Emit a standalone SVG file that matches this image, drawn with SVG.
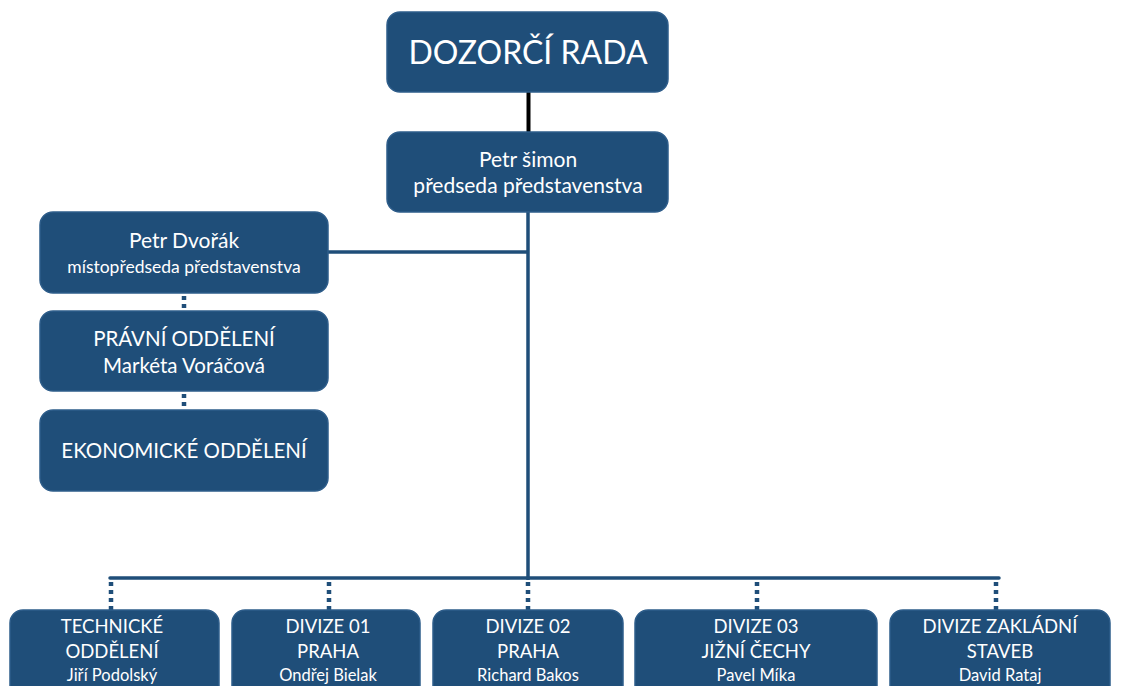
<svg xmlns="http://www.w3.org/2000/svg" width="1122" height="686" viewBox="0 0 1122 686">
  <style>
    .box { fill: #1f4e79; stroke: #2e5d8a; stroke-width: 1.5; }
    .t { fill: #ffffff; font-family: Lato, "Open Sans", "Liberation Sans", sans-serif; text-anchor: middle; }
    .big { font-size: 32px; }
    .m { font-size: 20.5px; }
    .mp { font-size: 21px; }
    .s { font-size: 17.5px; }
    .c { font-size: 18.5px; }
    .n { font-size: 16.5px; }
    .line { stroke: #1f4e79; stroke-width: 3.5; fill: none; }
    .dot { stroke: #1f4e79; stroke-width: 4.5; stroke-dasharray: 4 4; fill: none; }
  </style>
  <rect width="1122" height="686" fill="#ffffff"/>

  <g id="connectors">
    <line x1="528.5" y1="92" x2="528.5" y2="132" stroke="#000000" stroke-width="4"/>
    <line class="line" x1="528" y1="212" x2="528" y2="580"/>
    <line class="line" x1="328" y1="252" x2="528" y2="252"/>
    <line class="line" x1="110" y1="578" x2="999" y2="578" stroke-linecap="round"/>
    <line class="dot" x1="184" y1="296" x2="184" y2="311"/>
    <line class="dot" x1="184" y1="394" x2="184" y2="410"/>
    <line class="dot" x1="111" y1="582" x2="111" y2="610"/>
    <line class="dot" x1="329" y1="582" x2="329" y2="610"/>
    <line class="dot" x1="528" y1="582" x2="528" y2="610"/>
    <line class="dot" x1="757" y1="582" x2="757" y2="610"/>
    <line class="dot" x1="996" y1="582" x2="996" y2="610"/>
  </g>

  <g id="dozorci-rada">
    <rect class="box" x="387" y="12" width="281" height="80" rx="13"/>
    <text class="t big" x="528" y="64">DOZORČÍ RADA</text>
  </g>

  <g id="predseda">
    <rect class="box" x="387" y="132" width="281" height="80" rx="13"/>
    <text class="t mp" x="528" y="167">Petr šimon</text>
    <text class="t mp" x="528" y="193">předseda představenstva</text>
  </g>

  <g id="mistopredseda">
    <rect class="box" x="40" y="212" width="288" height="81" rx="13"/>
    <text class="t mp" x="184" y="248">Petr Dvořák</text>
    <text class="t s" x="184" y="273">místopředseda představenstva</text>
  </g>

  <g id="pravni">
    <rect class="box" x="40" y="311" width="288" height="80" rx="13"/>
    <text class="t m" x="184" y="346">PRÁVNÍ ODDĚLENÍ</text>
    <text class="t m" x="184" y="373">Markéta Voráčová</text>
  </g>

  <g id="ekonomicke">
    <rect class="box" x="40" y="410" width="288" height="81" rx="13"/>
    <text class="t m" x="184" y="458">EKONOMICKÉ ODDĚLENÍ</text>
  </g>

  <g id="technicke">
    <rect class="box" x="10" y="610" width="209" height="100" rx="13"/>
    <text class="t c" x="112" y="633">TECHNICKÉ</text>
    <text class="t c" x="112" y="658">ODDĚLENÍ</text>
    <text class="t n" x="112" y="681">Jiří Podolský</text>
  </g>

  <g id="divize01">
    <rect class="box" x="232" y="610" width="188" height="100" rx="13"/>
    <text class="t c" x="328" y="633">DIVIZE 01</text>
    <text class="t c" x="328" y="658">PRAHA</text>
    <text class="t n" x="328" y="681">Ondřej Bielak</text>
  </g>

  <g id="divize02">
    <rect class="box" x="433" y="610" width="190" height="100" rx="13"/>
    <text class="t c" x="528" y="633">DIVIZE 02</text>
    <text class="t c" x="528" y="658">PRAHA</text>
    <text class="t n" x="528" y="681">Richard Bakos</text>
  </g>

  <g id="divize03">
    <rect class="box" x="635" y="610" width="242" height="100" rx="13"/>
    <text class="t c" x="756" y="633">DIVIZE 03</text>
    <text class="t c" x="756" y="658">JIŽNÍ ČECHY</text>
    <text class="t n" x="756" y="681">Pavel Míka</text>
  </g>

  <g id="divize-zakladni">
    <rect class="box" x="890" y="610" width="220" height="100" rx="13"/>
    <text class="t c" x="1000" y="633">DIVIZE ZAKLÁDNÍ</text>
    <text class="t c" x="1000" y="658">STAVEB</text>
    <text class="t n" x="1000" y="681">David Rataj</text>
  </g>
</svg>
